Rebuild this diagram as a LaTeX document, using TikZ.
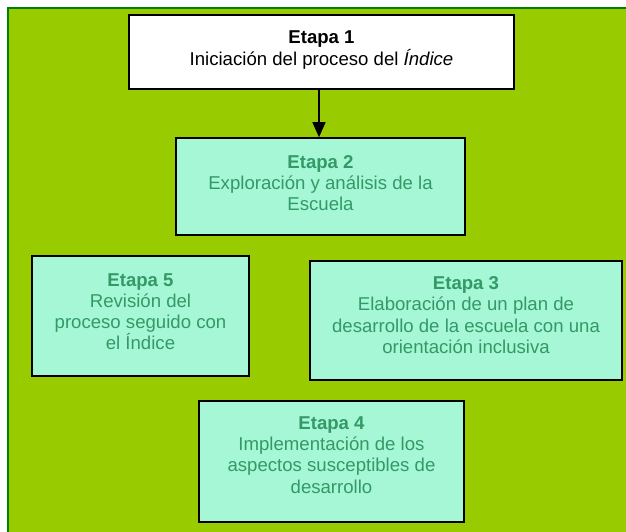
\documentclass[tikz,border=0pt]{standalone}
\usepackage{fontspec}
\setmainfont{Liberation Sans}
\usetikzlibrary{arrows.meta}
\definecolor{framegreen}{HTML}{99CC00}
\definecolor{frameline}{HTML}{008000}
\definecolor{boxfill}{HTML}{A6F7D6}
\definecolor{txtgreen}{HTML}{339966}
\begin{document}
\begin{tikzpicture}[x=1pt,y=-1pt,
  stagebox/.style={draw=black, line width=1.6pt, fill=boxfill, inner sep=0pt},
  firstbox/.style={stagebox, fill=white},
  stagetext/.style={align=center, text=txtgreen, inner sep=0pt,
    font=\fontsize{18.6}{21.2}\selectfont},
  firsttext/.style={stagetext, text=black},
  flow/.style={line width=1.5pt, -{Triangle[length=15pt,width=13pt]}}]
\useasboundingbox (0,0) rectangle (626,531);
\clip (0,0) rectangle (626,531);
\fill[white] (0,0) rectangle (626,531);
\draw[fill=framegreen, draw=frameline, line width=2pt] (8,8) rectangle (660,560);

\node[firstbox, minimum width=385pt, minimum height=74pt] (b1) at (321.5,52) {};
\node[firsttext] (t1) at (321.5,50) {\textbf{Etapa 1}\\Iniciación del proceso del \textit{Índice}};

\node[stagebox, minimum width=289pt, minimum height=97pt] (b2) at (320.5,186.5) {};
\node[stagetext] (t2) at (320.5,183) {\textbf{Etapa 2}\\Exploración y análisis de la\\Escuela};

\node[stagebox, minimum width=217pt, minimum height=120pt] (b5) at (140.5,316) {};
\node[stagetext] (t5) at (140.5,311.5) {\textbf{Etapa 5}\\Revisión del\\proceso seguido con\\el Índice};

\node[stagebox, minimum width=312pt, minimum height=119pt] (b3) at (466,320.5) {};
\node[stagetext] (t3) at (466,315) {\textbf{Etapa 3}\\Elaboración de un plan de\\desarrollo de la escuela con una\\orientación inclusiva};

\node[stagebox, minimum width=265pt, minimum height=121pt] (b4) at (331.5,461.5) {};
\node[stagetext] (t4) at (331.5,455) {\textbf{Etapa 4}\\Implementación de los\\aspectos susceptibles de\\desarrollo};

\draw[flow] (b1.south -| 319,0) -- (b2.north -| 319,0);
\end{tikzpicture}
\end{document}
